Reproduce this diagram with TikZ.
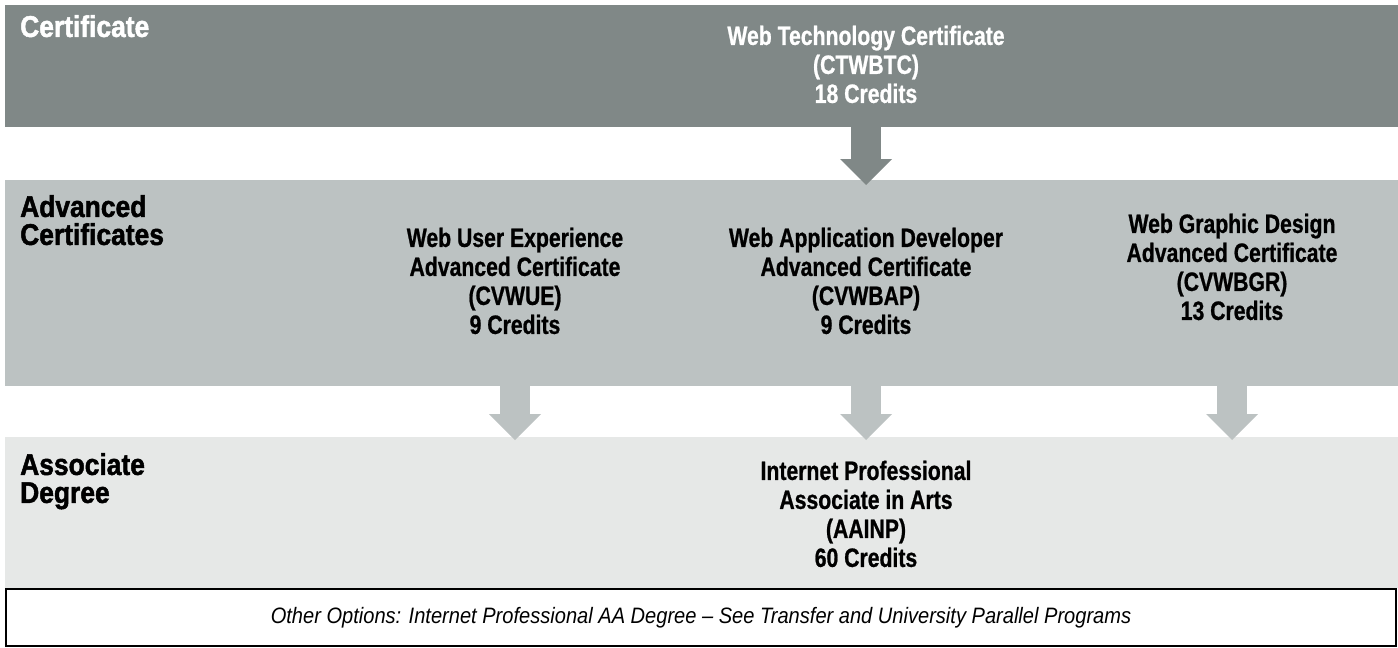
\documentclass[tikz,border=0pt]{standalone}
\usepackage{fontspec}
\setmainfont{Liberation Sans}
\newfontfamily\programfont[FakeStretch=0.8,FakeBold=0.8]{Liberation Sans}
\newfontfamily\levelfont[FakeStretch=0.88,FakeBold=1.6]{Liberation Sans}
\newfontfamily\notefont[FakeStretch=0.9]{Liberation Sans}
\usetikzlibrary{arrows.meta}

\definecolor{certgray}{RGB}{128,136,135}
\definecolor{advgray}{RGB}{188,194,194}
\definecolor{assocgray}{RGB}{230,232,231}

\begin{document}
\begin{tikzpicture}[x=1pt,y=-1pt,
    band/.style={anchor=north west, inner sep=0pt, outer sep=0pt, minimum width=1393pt},
    level/.style={anchor=north west, inner sep=0pt, align=left,
        font=\levelfont\bfseries\fontsize{30}{28}\selectfont},
    program/.style={anchor=north, inner sep=0pt, align=center,
        font=\programfont\bfseries\fontsize{26.5}{29}\selectfont},
    blockarrow/.style={line width=30pt, -{Triangle[width=52pt,length=26pt,line width=0pt]}}]
    \useasboundingbox (0,0) rectangle (1398,648);

    \node[band, fill=certgray, minimum height=122pt] (cert) at (5,5) {};
    \node[band, fill=advgray, minimum height=206pt] (adv) at (5,180) {};
    \node[band, fill=assocgray, minimum height=151pt] (assoc) at (5,437) {};
    \node[draw, line width=2pt, anchor=north west, inner sep=0pt, outer sep=0pt,
        minimum width=1390pt, minimum height=57pt,
        font=\notefont\itshape\fontsize{22.3}{24}\selectfont] (other) at (6,589)
        {Other Options: Internet Professional AA Degree – See Transfer and University Parallel Programs};

    \node[level, text=white] (certlevel) at (20,15) {Certificate};
    \node[level] (advlevel) at (20,195) {Advanced\\Certificates};
    \node[level] (assoclevel) at (20,453) {Associate\\Degree};

    \node[program, text=white] (ctwbtc) at (866,25.5) {Web Technology Certificate\\(CTWBTC)\\18 Credits};
    \node[program] (cvwue) at (515,227.5) {Web User Experience\\Advanced Certificate\\(CVWUE)\\9 Credits};
    \node[program] (cvwbap) at (866,227.5) {Web Application Developer\\Advanced Certificate\\(CVWBAP)\\9 Credits};
    \node[program] (cvwbgr) at (1232,213.5) {Web Graphic Design\\Advanced Certificate\\(CVWBGR)\\13 Credits};
    \node[program] (aainp) at (866,460.5) {Internet Professional\\Associate in Arts\\(AAINP)\\60 Credits};

    \draw[blockarrow, certgray] (cert.south -| ctwbtc) -- ([yshift=-5pt]adv.north -| ctwbtc);
    \foreach \prog in {cvwue,cvwbap,cvwbgr}
    {
        \draw[blockarrow, advgray] (adv.south -| \prog) -- ([yshift=-3pt]assoc.north -| \prog);
    }
\end{tikzpicture}
\end{document}
